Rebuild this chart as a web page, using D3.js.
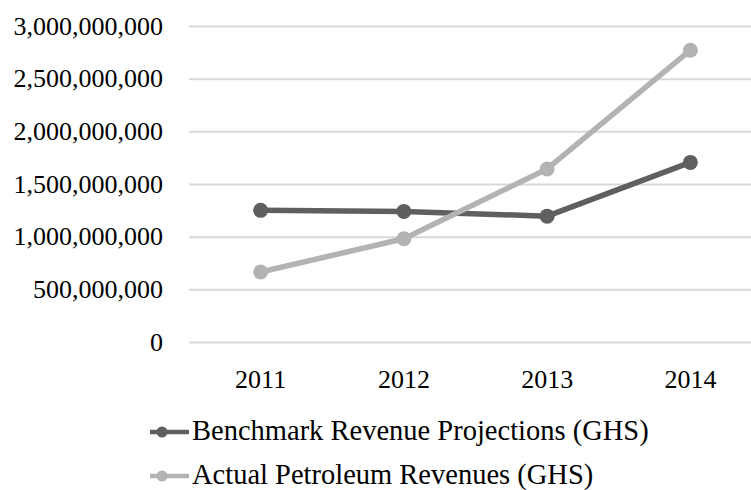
<!DOCTYPE html>
<html>
<head>
<meta charset="utf-8">
<script src="https://cdn.jsdelivr.net/npm/d3@7"></script>
<style>
  body { margin: 0; background: #fff; }
  svg { font-family: "Liberation Serif", "Times New Roman", serif; }
</style>
</head>
<body>
<div id="chart"></div>
<script>
// data
var years = ["2011", "2012", "2013", "2014"];
var benchmark = [1250000000, 1240000000, 1195000000, 1705000000];
var actual = [665000000, 980000000, 1643000000, 2770000000];
var yTicks = [0, 500000000, 1000000000, 1500000000, 2000000000, 2500000000, 3000000000];
var seriesNames = ["Benchmark Revenue Projections (GHS)", "Actual Petroleum Revenues (GHS)"];
var seriesColors = ["#5f5f5f", "#b3b3b3"];

var W = 751, H = 490;
var plotLeft = 189, plotTop = 26, plotBottom = 342, plotRight = 762;

var svg = d3.select("#chart")
    .append("svg")
    .attr("width", W)
    .attr("height", H);

// set the ranges
var x = d3.scaleBand()
    .domain(years)
    .range([plotLeft, plotRight]);

var y = d3.scaleLinear()
    .domain([0, 3000000000])
    .range([plotBottom, plotTop]);

// y axis with gridlines
var yAxis = svg.append("g")
    .attr("transform", "translate(" + plotLeft + ",0)")
    .call(d3.axisLeft(y)
      .tickValues(yTicks)
      .tickFormat(d3.format(","))
      .tickSize(-(plotRight - plotLeft))
      .tickPadding(26));
yAxis.select(".domain").remove();
yAxis.selectAll(".tick line")
    .attr("stroke", "#d9d9d9")
    .attr("stroke-width", 2);
yAxis.selectAll(".tick text")
    .attr("fill", "#000")
    .style("font-size", "26px")
    .style("font-family", "Liberation Serif");

// x axis
var xAxis = svg.append("g")
    .attr("transform", "translate(0," + plotBottom + ")")
    .call(d3.axisBottom(x).tickSize(0).tickPadding(28));
xAxis.select(".domain").remove();
xAxis.selectAll(".tick text")
    .attr("fill", "#000")
    .style("font-size", "26px")
    .style("font-family", "Liberation Serif");

var line = d3.line()
    .x(function(d, i) { return x(years[i]) + x.bandwidth() / 2; })
    .y(function(d) { return y(d); });

var allSeries = [benchmark, actual];

allSeries.forEach(function(vals, s) {
  svg.append("path")
      .datum(vals)
      .attr("fill", "none")
      .attr("stroke", seriesColors[s])
      .attr("stroke-width", 5.5)
      .attr("stroke-linejoin", "round")
      .attr("d", line);

  svg.selectAll(".dot" + s)
      .data(vals)
      .enter().append("circle")
      .attr("cx", function(d, i) { return x(years[i]) + x.bandwidth() / 2; })
      .attr("cy", function(d) { return y(d); })
      .attr("r", 7.5)
      .attr("fill", seriesColors[s]);
});

// legend
var legend = svg.selectAll(".legend")
    .data(seriesNames)
    .enter().append("g")
    .attr("class", "legend")
    .attr("transform", function(d, i) { return "translate(150," + (432 + i * 44) + ")"; });

legend.append("line")
    .attr("x1", 0).attr("x2", 39)
    .attr("y1", 0).attr("y2", 0)
    .attr("stroke", function(d, i) { return seriesColors[i]; })
    .attr("stroke-width", 4.5);

legend.append("circle")
    .attr("cx", 12)
    .attr("cy", 0)
    .attr("r", 5.5)
    .attr("fill", function(d, i) { return seriesColors[i]; });

legend.append("text")
    .attr("x", 42)
    .attr("y", 8)
    .style("font-size", "28.5px")
    .attr("fill", "#000")
    .text(function(d) { return d; });
</script>
</body>
</html>
